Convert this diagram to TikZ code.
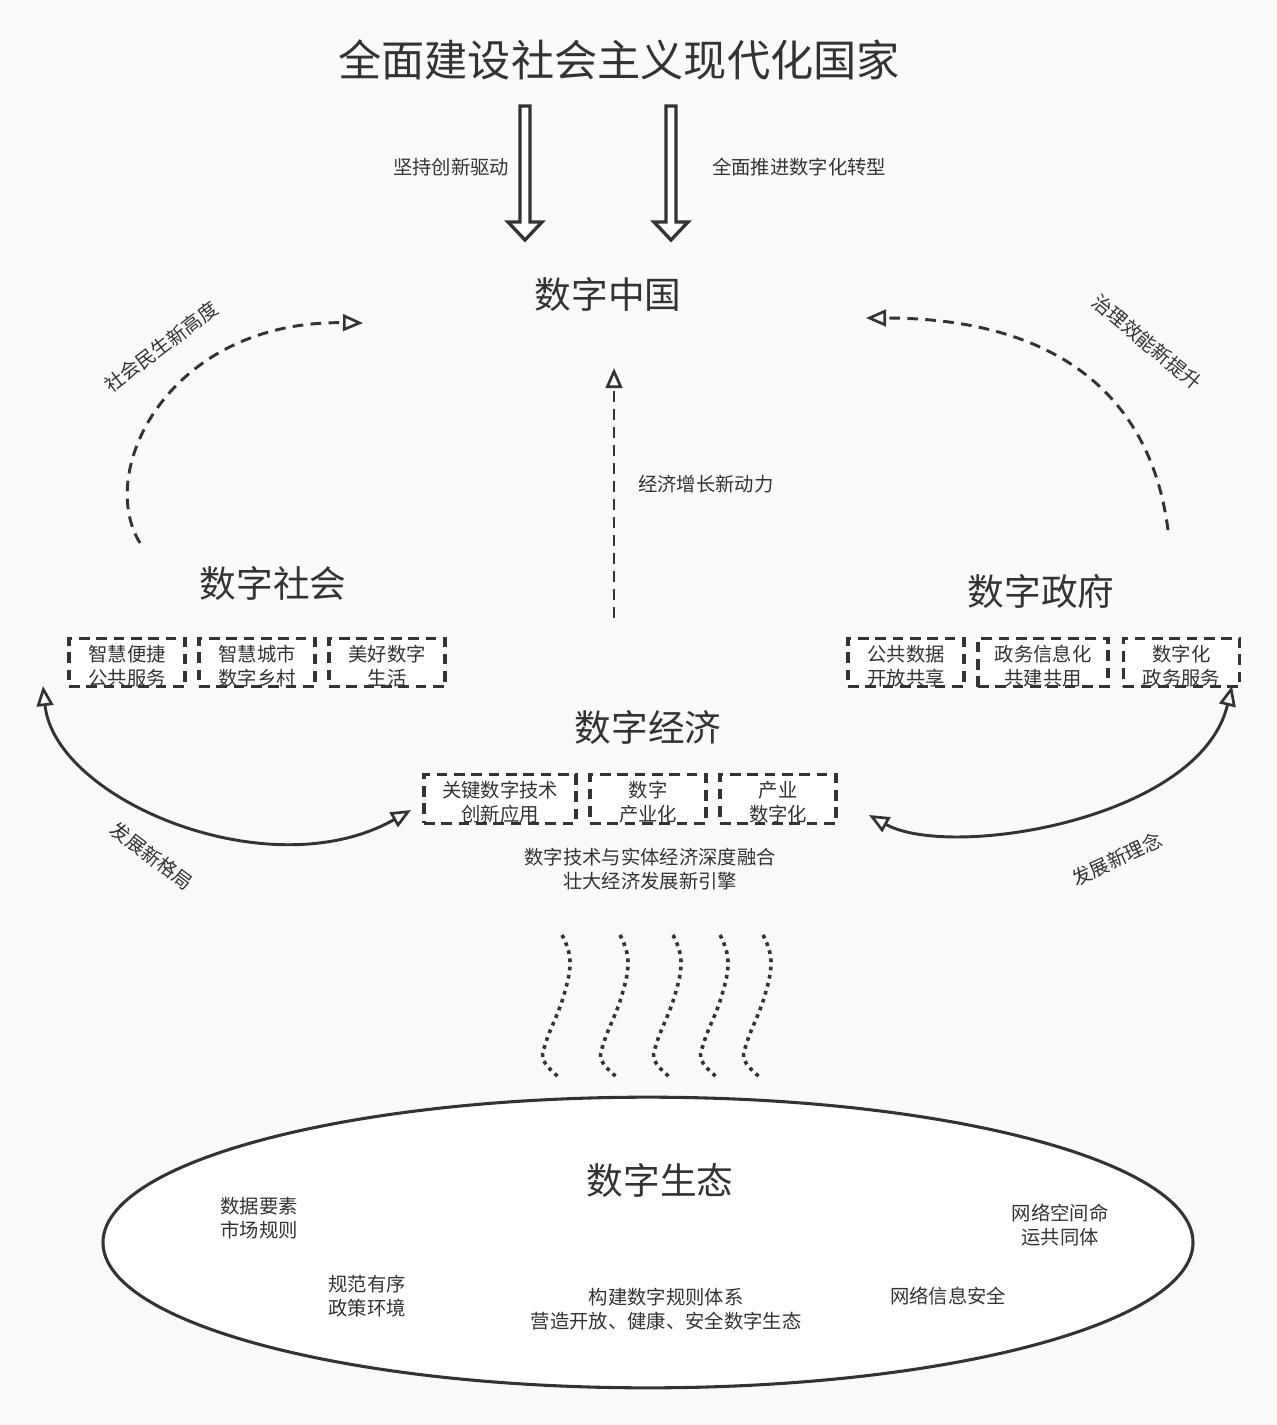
\documentclass[tikz,border=0pt]{standalone}
\usepackage{fontspec}
\setmainfont{Noto Sans CJK SC}
\usetikzlibrary{arrows.meta,shapes.geometric}
\definecolor{ink}{HTML}{333333}
\definecolor{bg}{HTML}{FAFAFA}
\begin{document}
\begin{tikzpicture}[x=0.75pt,y=-0.75pt,
  txt/.style={text=ink, font=\fontsize{14.5}{18}\selectfont, align=center, inner sep=0pt},
  big/.style={text=ink, font=\fontsize{27.5}{32}\selectfont, inner sep=0pt},
  dbox/.style={draw=ink, line width=2.3pt, dash pattern=on 8pt off 5pt, fill=white,
     minimum height=36.5pt, inner sep=0pt},
  btxt/.style={txt, yshift=-2.5pt},
  blockarrow/.style={draw=ink, line width=2.5pt, fill=white, line join=miter},
  tipo/.tip={Triangle[open, length=15pt, width=12.5pt, line width=2pt]},
  otip/.style={-tipo},
  dline/.style={draw=ink, line width=2.2pt, dash pattern=on 8pt off 5.5pt},
  sline/.style={draw=ink, line width=2.2pt},
  dotline/.style={draw=ink, line width=2.7pt, dash pattern=on 2.8pt off 3.4pt},
]
\fill[bg] (0,0) rectangle (1277,1425);
\useasboundingbox (0,0) rectangle (1277,1425);

% title and main labels
\node[text=ink, font=\fontsize{32.4}{36}\selectfont, inner sep=0pt] (title) at (619,60) {全面建设社会主义现代化国家};
\node[big] (china) at (608,294) {数字中国};
\node[big] (society) at (273,583) {数字社会};
\node[big] (gov) at (1041,591) {数字政府};
\node[big] (economy) at (648,727) {数字经济};

% block arrows from title
\draw[blockarrow] (525,106) ++(-5,0) -- ++(10,0) -- ++(0,116) -- ++(12,0) -- ++(-17,18) -- ++(-17,-18) -- ++(12,0) -- cycle;
\draw[blockarrow] (671,106) ++(-5,0) -- ++(10,0) -- ++(0,116) -- ++(12,0) -- ++(-17,18) -- ++(-17,-18) -- ++(12,0) -- cycle;
\node[txt] (lab1) at (451,167) {坚持创新驱动};
\node[txt] (lab2) at (799,167) {全面推进数字化转型};

% society boxes
\node[dbox, minimum width=87pt] (s1) at (127,662.5) {};
\node[dbox, minimum width=87pt] (s2) at (257,662.5) {};
\node[dbox, minimum width=87pt] (s3) at (387,662.5) {};
\node[btxt] (s1t) at (s1.center) {智慧便捷\\公共服务};
\node[btxt] (s2t) at (s2.center) {智慧城市\\数字乡村};
\node[btxt] (s3t) at (s3.center) {美好数字\\生活};

% government boxes
\node[dbox, minimum width=87pt] (g1) at (906,662.5) {};
\node[dbox, minimum width=97.5pt] (g2) at (1043,662.5) {};
\node[dbox, minimum width=87.5pt] (g3) at (1181.5,662.5) {};
\node[btxt] (g1t) at (g1.center) {公共数据\\开放共享};
\node[btxt] (g2t) at (g2.center) {政务信息化\\共建共用};
\node[btxt] (g3t) at (g3.center) {数字化\\政务服务};

% economy boxes
\node[dbox, minimum width=114pt] (e1) at (500,799) {};
\node[dbox, minimum width=87pt] (e2) at (648,799) {};
\node[dbox, minimum width=87pt] (e3) at (778,799) {};
\node[btxt] (e1t) at (e1.center) {关键数字技术\\创新应用};
\node[btxt] (e2t) at (e2.center) {数字\\产业化};
\node[btxt] (e3t) at (e3.center) {产业\\数字化};

\node[txt] (fusion) at (650,869) {数字技术与实体经济深度融合\\壮大经济发展新引擎};

% dashed arrows to 数字中国
\coordinate (upS) at (614,618);
\coordinate (upE) at (614,368);
\draw[dline, otip] (upS) -- (upE);
\node[txt, anchor=west] (lab3) at (638,484) {经济增长新动力};

\coordinate (lS) at (140,543);
\coordinate (lE) at (363,323);
\draw[dline, otip] (lS) .. controls (95,470) and (170,320) .. (lE);
\node[txt, rotate=37] (lab4) at (161,347) {社会民生新高度};

\coordinate (rS) at (1168,530);
\coordinate (rE) at (866,318);
\draw[dline, otip] (rS) .. controls (1150,390) and (1050,318) .. (rE);
\node[txt, rotate=-40] (lab5) at (1147,342) {治理效能新提升};

% solid two-way arcs
\coordinate (laA) at (43,686);
\coordinate (laB) at (411,810);
\draw[sline, tipo-tipo] (laA) .. controls (55,800) and (270,890) .. (laB);
\node[txt, rotate=-37] (lab6) at (152,856) {发展新格局};

\coordinate (raA) at (869,815);
\coordinate (raB) at (1232,686);
\draw[sline, tipo-tipo] (raA) .. controls (950,860) and (1200,820) .. (raB);
\node[txt, rotate=25] (lab7) at (1117,859) {发展新理念};

% wavy dotted lines
\foreach \x in {562,620,673,720,763}{
  \draw[dotline] plot[smooth, tension=0.7] coordinates {(\x,935) (\x+8,961) (\x+1,998) (\x-16,1042) (\x-18,1061) (\x-2,1078)};
}

% ecosystem ellipse
\node[draw=ink, line width=2.3pt, fill=white, ellipse, inner sep=0pt, minimum width=817.5pt, minimum height=218pt] (eco) at (648,1242.5) {};
\node[big] (ecot) at (660,1180) {数字生态};
\node[txt] (t1) at (259,1218) {数据要素\\市场规则};
\node[txt] (t2) at (367,1296) {规范有序\\政策环境};
\node[txt] (t3) at (666,1309) {构建数字规则体系\\营造开放、健康、安全数字生态};
\node[txt] (t4) at (948,1296) {网络信息安全};
\node[txt] (t5) at (1060,1225) {网络空间命\\运共同体};
\end{tikzpicture}
\end{document}
